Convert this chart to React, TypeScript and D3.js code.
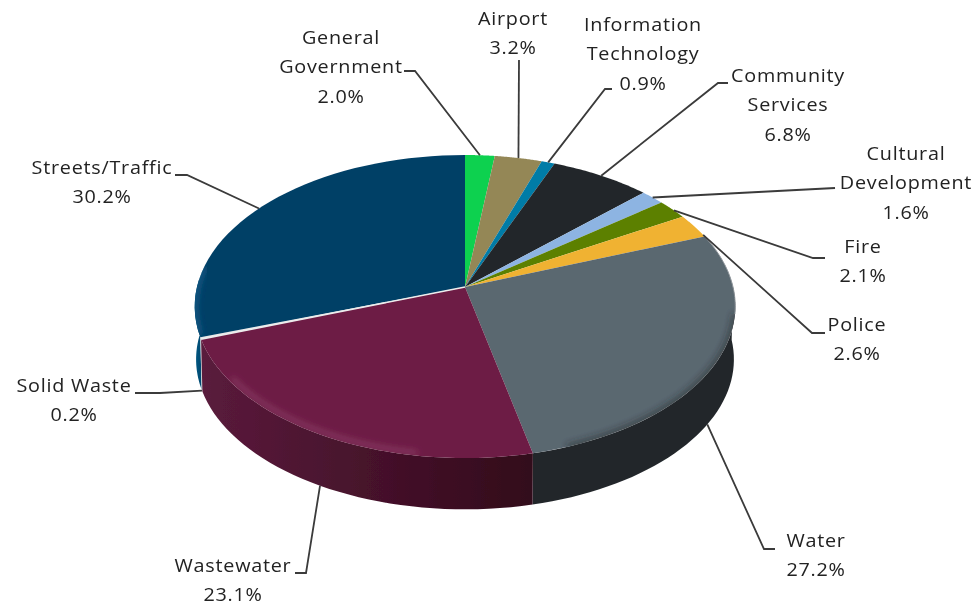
import React from "react";
import * as d3 from "d3";

const categories = ["General Government","Airport","Information Technology","Community Services","Cultural Development","Fire","Police","Water","Wastewater","Solid Waste","Streets/Traffic"];
const values = [2.0,3.2,0.9,6.8,1.6,2.1,2.6,27.2,23.1,0.2,30.2];
const topColors = ["#0CD14F","#948757","#007BA7","#23282B","#8DB4E2","#5C8000","#F0B233","#5A6770","#6D1C45","#E8E8E8","#003F66"];
const sideColors = ["#0a9a3a","#6b6240","#005a7a","#1a1d20","#6a88aa","#435d00","#b08425","#23282C","url(#wwSide)","#cfcfcf","url(#stSide)"];

// label layout: centre x, first-line centre y, leader elbow points, angular nudge of the leader's end
const labelLayout: {x:number;y:number;lines:string[];leader:[number,number][];nudge:number}[] = [
  {x:341,y:37,lines:["General","Government"],leader:[[404,71],[415,71]],nudge:0},
  {x:513,y:18,lines:["Airport"],leader:[[519,60]],nudge:0},
  {x:643,y:24,lines:["Information","Technology"],leader:[[612,89],[605,89]],nudge:0},
  {x:788,y:75,lines:["Community","Services"],leader:[[728,83],[718,83]],nudge:0},
  {x:906,y:153,lines:["Cultural","Development"],leader:[[835,188]],nudge:0},
  {x:863,y:246,lines:["Fire"],leader:[[825,258],[813,258]],nudge:0.01},
  {x:857,y:324,lines:["Police"],leader:[[825,333],[812,333]],nudge:0.07},
  {x:816,y:540,lines:["Water"],leader:[[775,549],[764,549]],nudge:0.07},
  {x:233,y:565,lines:["Wastewater"],leader:[[295,573],[306,573]],nudge:0},
  {x:74,y:385,lines:["Solid Waste"],leader:[[135,393],[160,393]],nudge:0},
  {x:102,y:167,lines:["Streets/Traffic"],leader:[[175,175],[187,175]],nudge:-0.02},
];

const CX = 465, CY = 287, A = 268, B = 149, K = 0.129, DEPTH = 51, SCALE_X = 0.995, SCALE_Y = 0.99;

const project = (t:number, r=1):[number,number] => {
  const u = Math.sin(t)*r, v = -Math.cos(t)*r, d = 1-K*v;
  return [CX + A*u/d, CY + B*v/d];
};
const projectBottom = (t:number):[number,number] => {
  const [x,y] = project(t);
  return [CX + (x-CX)*SCALE_X, CY + (y-CY)*SCALE_Y + DEPTH + 2];
};
const samples = (a:number,b:number) => d3.range(0,41).map(i => a+(b-a)*i/40);
const line = d3.line<[number,number]>().x(d=>d[0]).y(d=>d[1]);

export default function App() {
  const arcs = d3.pie<number>().sort(null).value(d=>d)(values);
  const topPath = (a:number,b:number) => line([[CX,CY],...samples(a,b).map(t=>project(t))])+"Z";
  const sidePath = (a:number,b:number) => line([...samples(a,b).map(t=>project(t)),...samples(b,a).map(projectBottom)])+"Z";
  const arcLine = (a:number,b:number,r=1) => line(samples(a,b).map(t=>project(t,r)))!;
  const font = "'Open Sans', 'Noto Sans', sans-serif";
  const drawOrder = [10,9,7,8];
  return (
    <svg width={979} height={606} style={{position:"absolute",left:0,top:0,background:"#fff"}}>
      <defs>
        <linearGradient id="wwSide" gradientUnits="userSpaceOnUse" x1={203} x2={528} y1={0} y2={0}>
          <stop offset="0" stopColor="#5A1B3C"/><stop offset="1" stopColor="#33091B"/>
        </linearGradient>
        <linearGradient id="stSide" gradientUnits="userSpaceOnUse" x1={194} x2={208} y1={0} y2={0}>
          <stop offset="0" stopColor="#005A86"/><stop offset="1" stopColor="#00395C"/>
        </linearGradient>
        <filter id="soft" x="-30%" y="-30%" width="160%" height="160%"><feGaussianBlur stdDeviation="3"/></filter>
        <filter id="all"><feGaussianBlur stdDeviation="0.5"/></filter>
        {arcs.map((d,i)=><clipPath id={`c${i}`} key={i}><path d={topPath(d.startAngle,d.endAngle)}/></clipPath>)}
      </defs>
      <g filter="url(#all)">
        {drawOrder.map(i=>{
          const d = arcs[i];
          const a = Math.max(d.startAngle, Math.PI/2);
          const b = Math.min(d.endAngle, Math.PI*1.5+0.05);
          return <path key={i} d={sidePath(a,b)} fill={sideColors[i]}/>;
        })}
        {arcs.map((d,i)=><path key={i} d={topPath(d.startAngle,d.endAngle)} fill={topColors[i]}/>)}
        {/* bevels */}
        <g clipPath="url(#c10)">
          <path d={arcLine(4.4,4.85)} fill="none" stroke="#1B6E9C" strokeWidth={5} strokeOpacity={0.7} filter="url(#soft)"/>
        </g>
        <g clipPath="url(#c8)">
          <path d={arcLine(3.3,4.1,0.985)} fill="none" stroke="#9A4F75" strokeWidth={3.5} strokeOpacity={0.75} filter="url(#soft)"/>
        </g>
        <g clipPath="url(#c7)">
          <path d={arcLine(1.75,2.8)} fill="none" stroke="#23282C" strokeWidth={5} strokeOpacity={0.65} filter="url(#soft)"/>
        </g>
        <path d={arcLine(1.2,1.75)} fill="none" stroke="#8E959A" strokeWidth={1}/>
        <path d={line([[CX,CY],project(arcs[9].startAngle)])!} fill="none" stroke="#EDEDED" strokeWidth={1.6}/>
        {labelLayout.map((l,i)=>{
          const d = arcs[i];
          const t = (d.startAngle+d.endAngle)/2 + l.nudge;
          const end = i>=7 && i<=9 ? projectBottom(t) : project(t);
          return <path key={i} d={line([...l.leader,end])!} fill="none" stroke="#3A3A3A" strokeWidth={1.8}/>;
        })}
        {labelLayout.map((l,i)=>(
          <text key={i} transform={`translate(${l.x},0) scale(1.07,1)`} textAnchor="middle" fontFamily={font} fontSize={18.5} letterSpacing={0.7} fill="#222">
            {[...l.lines,`${values[i].toFixed(1)}%`].map((s,j)=>(
              <tspan key={j} x={0} y={l.y+j*29.5+7}>{s}</tspan>
            ))}
          </text>
        ))}
      </g>
    </svg>
  );
}
